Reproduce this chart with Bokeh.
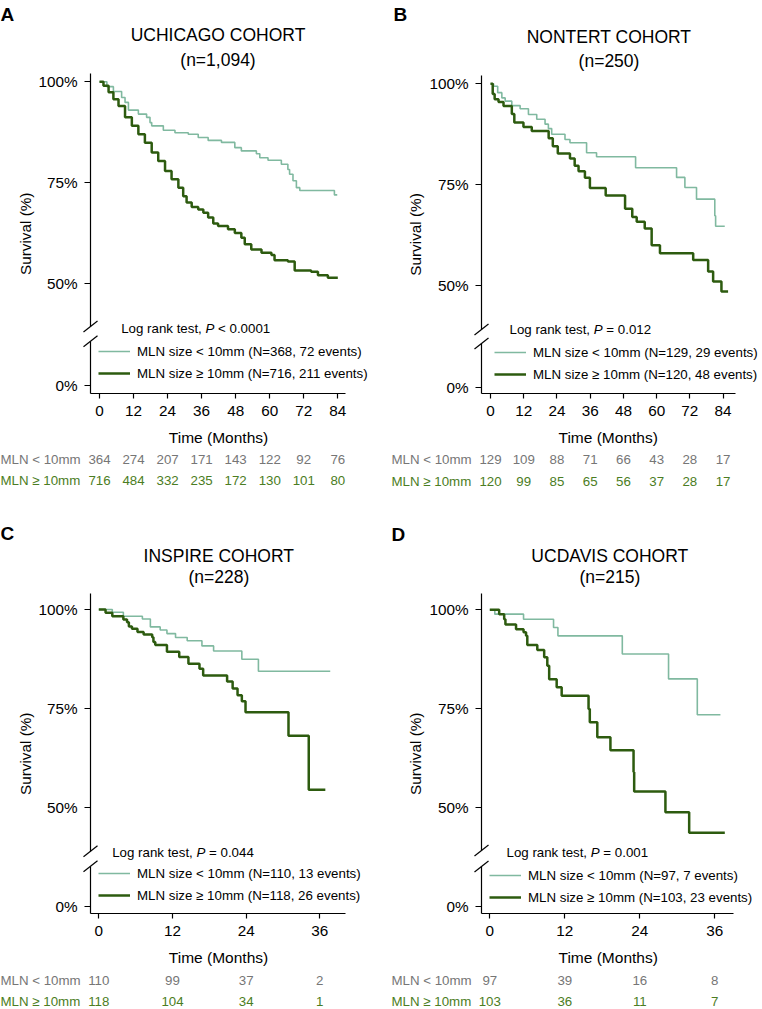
import math
from bokeh.plotting import figure
from bokeh.layouts import column, row
from bokeh.models import LinearAxis, FixedTicker, Legend, LegendItem, Range1d, PrintfTickFormatter
from bokeh.core.properties import value
from bokeh.embed import file_html
from bokeh.resources import INLINE

S = 1.0
FONT = "Liberation Sans"
LIGHT = "#80b9a0"
DARK = "#2d5b0f"
GREY = "#767676"
GREEN = "#4b7d23"

Y_TICKS = [50, 75, 100]

# ---------------- data ----------------
A_lo_t = [0, 2.6, 4.9, 7.8, 9.0, 10.2, 13.7, 16.6, 17.8, 18.4, 22.5, 26.6, 31.3, 34.8, 38.3, 43.0, 47.7, 50.0, 55.3, 56.5, 59.4, 64.1, 66.4, 67.0, 68.2, 69.4, 70.6, 82.8]
A_lo_s = [100, 98.8, 97.6, 96.1, 94.9, 93.0, 92.0, 91.2, 89.9, 89.1, 88.0, 87.4, 87.0, 86.2, 85.5, 85.0, 83.7, 82.9, 82.2, 81.2, 80.6, 79.6, 78.3, 77.1, 75.5, 73.8, 73.1, 72.0]
A_lo_end = 83.8
A_hi_t = [0, 1.4, 3.2, 4.9, 6.7, 9.0, 11.4, 13.7, 16.0, 18.4, 20.7, 23.1, 25.4, 27.8, 29.5, 30.7, 32.5, 34.8, 36.6, 38.3, 40.1, 41.8, 45.3, 47.7, 50.0, 51.2, 53.5, 57.1, 60.6, 61.7, 66.4, 68.8, 74.6, 77.0, 80.5]
A_hi_s = [100, 99.0, 97.4, 95.7, 94.0, 91.2, 89.1, 87.0, 84.9, 82.5, 80.4, 77.9, 75.9, 73.8, 71.7, 70.1, 69.0, 68.4, 67.6, 66.4, 64.9, 64.3, 63.5, 62.6, 61.4, 59.8, 58.5, 57.7, 57.1, 55.8, 55.5, 53.3, 53.0, 52.1, 51.5]
A_hi_end = 84.0

B_lo_t = [0, 1.1, 2.6, 4.1, 5.3, 7.7, 10.7, 13.7, 16.7, 19.7, 20.9, 22.1, 26.9, 28.7, 34.7, 38.3, 52.4, 67.2, 70.2, 74.4, 81.0, 81.3]
B_lo_s = [100, 99.4, 97.8, 96.5, 95.7, 94.6, 93.8, 92.4, 91.2, 90.0, 88.9, 87.5, 86.2, 85.4, 82.9, 81.9, 79.2, 76.8, 74.3, 71.4, 67.3, 64.7]
B_lo_end = 84.6
B_hi_t = [0, 0.8, 1.5, 2.9, 4.7, 7.7, 8.6, 11.9, 14.9, 21.0, 22.5, 24.3, 28.7, 30.4, 31.8, 34.1, 35.9, 41.6, 48.6, 51.2, 52.8, 55.7, 58.2, 61.2, 73.2, 78.6, 80.4, 83.4]
B_hi_s = [100, 97.5, 96.2, 95.5, 94.5, 92.5, 90.4, 89.3, 88.3, 86.5, 84.5, 82.7, 81.5, 79.7, 78.3, 76.7, 74.2, 72.3, 69.0, 67.0, 65.8, 64.1, 60.0, 58.0, 56.3, 53.5, 51.0, 48.5]
B_hi_end = 85.8

C_lo_t = [0, 2.2, 4.0, 7.1, 8.4, 10.0, 11.1, 12.5, 14.4, 16.8, 18.7, 23.3, 26.0]
C_lo_s = [100, 99.3, 98.3, 97.6, 95.6, 94.8, 93.9, 92.9, 92.1, 90.8, 89.5, 87.4, 84.4]
C_lo_end = 37.7
C_hi_t = [0, 1.1, 2.2, 4.0, 4.6, 4.9, 5.4, 6.3, 7.3, 8.7, 8.9, 9.2, 11.1, 13.1, 14.6, 16.4, 17.0, 20.9, 21.8, 22.6, 23.3, 23.9, 30.9, 34.2]
C_hi_s = [100, 99.2, 98.3, 97.5, 96.8, 95.7, 95.1, 94.3, 93.7, 93.0, 91.8, 91.0, 89.3, 88.0, 86.3, 85.0, 83.3, 81.8, 80.0, 78.3, 76.8, 74.0, 68.1, 54.4]
C_hi_end = 36.9

D_lo_t = [0, 0.8, 5.4, 10.2, 10.9, 21.2, 28.6, 33.2]
D_lo_s = [100, 98.9, 97.6, 95.5, 93.4, 88.8, 82.5, 73.4]
D_lo_end = 36.9
D_hi_t = [0, 1.5, 2.3, 2.5, 4.2, 5.4, 5.8, 6.0, 7.6, 8.7, 9.2, 9.5, 10.7, 11.5, 15.8, 16.0, 17.2, 19.3, 23.0, 23.1, 28.1, 31.9]
D_hi_s = [100, 98.9, 97.6, 96.3, 95.1, 94.3, 93.4, 91.1, 89.8, 88.0, 85.8, 82.4, 80.4, 78.2, 74.9, 71.5, 67.7, 64.4, 58.9, 54.0, 48.7, 43.5]
D_hi_end = 37.6

RISK_T_84 = [0, 12, 24, 36, 48, 60, 72, 84]
RISK_T_36 = [0, 12, 24, 36]
A_risk_lo = [364, 274, 207, 171, 143, 122, 92, 76]
A_risk_hi = [716, 484, 332, 235, 172, 130, 101, 80]
B_risk_lo = [129, 109, 88, 71, 66, 43, 28, 17]
B_risk_hi = [120, 99, 85, 65, 56, 37, 28, 17]
C_risk_lo = [110, 99, 37, 2]
C_risk_hi = [118, 104, 34, 1]
D_risk_lo = [97, 39, 16, 8]
D_risk_hi = [103, 36, 11, 7]

TITLES = ["UCHICAGO COHORT", "NONTERT COHORT", "INSPIRE COHORT", "UCDAVIS COHORT"]
NS = ["(n=1,094)", "(n=250)", "(n=228)", "(n=215)"]
LETTERS = ["A", "B", "C", "D"]
LEG_LO = ["MLN size < 10mm (N=368, 72 events)", "MLN size < 10mm (N=129, 29 events)",
          "MLN size < 10mm (N=110, 13 events)", "MLN size < 10mm (N=97, 7 events)"]
LEG_HI = ["MLN size \u2265 10mm (N=716, 211 events)", "MLN size \u2265 10mm (N=120, 48 events)",
          "MLN size \u2265 10mm (N=118, 26 events)", "MLN size \u2265 10mm (N=103, 23 events)"]
PVALS = ["< 0.0001", "= 0.012", "= 0.044", "= 0.001"]
ROW_LABELS = ["MLN < 10mm", "MLN \u2265 10mm"]

# ---------------- layout geometry (reference px, relative to panel) ----------------
GEO = [
    dict(w=390, h=500, x0=99.0, ppm=2.837, y50=283.3, ppp=4.04, t0=385.0, yax=90, ytop=73.3, xax=393.3, xr=345,
         bu=326.0, bl=340.7, let=(0, 14), tt=(217.5, 34.5, 59), sv=(24.5, 233.3), lr=(120.7, 327.5),
         leg=(98.3, 350.7, 372.7), xl=(218, 437.3), rl=0, rows=(459.3, 480.0), xtl=413.3),
    dict(w=372, h=500, x0=100.0, ppm=2.769, y50=285.0, ppp=4.034, t0=386.7, yax=91, ytop=75, xax=393.3, xr=345,
         bu=329.0, bl=343.0, let=(3, 14), tt=(218.5, 36, 60), sv=(25, 234), lr=(119, 329),
         leg=(104, 352.7, 374.0), xl=(217.7, 437), rl=1, rows=(459.3, 480.7), xtl=414),
    dict(w=390, h=508, x0=98.3, ppm=6.139, y50=306.7, ppp=3.954, t0=405.7, yax=90, ytop=93.3, xax=413.3, xr=345,
         bu=350.7, bl=365.7, let=(0, 32.5), tt=(218.3, 55, 76), sv=(24.5, 253.3), lr=(111.7, 351.7),
         leg=(98.3, 373.3, 395.0), xl=(218, 457.3), rl=0, rows=(480.0, 500.7), xtl=434),
    dict(w=372, h=508, x0=99.3, ppm=6.25, y50=306.7, ppp=3.948, t0=405.7, yax=91, ytop=93.3, xax=413.3, xr=342.7,
         bu=350.0, bl=366.0, let=(1, 33.5), tt=(219.3, 55, 76), sv=(25, 253.3), lr=(116, 351.7),
         leg=(99.3, 376.0, 397.3), xl=(217.7, 457.3), rl=1, rows=(480.0, 500.7), xtl=434),
]

AW = {' ': 278, ',': 278, '.': 278, '<': 584, '=': 584, 'L': 556, 'o': 556, 'g': 556, 'r': 333,
      'a': 556, 'n': 556, 'k': 500, 't': 278, 'e': 556, 's': 500, 'P': 667}


def tw(s, size):
    return sum(AW.get(c, 556) for c in s) / 1000.0 * size


def fs(px):
    return f"{px * S:.2f}px"


def style_axis(ax, standoff, tick_out):
    ax.axis_line_color = "black"
    ax.axis_line_width = 1.2
    ax.major_tick_line_color = "black"
    ax.major_tick_line_width = 1.2
    ax.major_tick_in = 0
    ax.major_tick_out = tick_out
    ax.minor_tick_line_color = None
    ax.major_label_text_font = FONT
    ax.major_label_text_font_size = fs(15.3)
    ax.major_label_text_color = "black"
    ax.major_label_standoff = standoff


def make_panel(i, lo_t, lo_s, lo_end, hi_t, hi_s, hi_end, risk_t, risk_lo, risk_hi):
    g = GEO[i]
    W = round(g["w"] * S)
    H = round(g["h"] * S)
    wr, hr = W / S, H / S
    X = lambda px: (px - g["x0"]) / g["ppm"]
    Y = lambda py: 50 + (g["y50"] - py) / g["ppp"]
    p = figure(width=W, height=H, x_range=Range1d(X(0), X(wr)), y_range=Range1d(Y(hr), Y(0)),
               output_backend="svg", toolbar_location=None, title=None,
               min_border_left=0, min_border_right=0, min_border_top=0, min_border_bottom=0)
    p.outline_line_color = None
    p.grid.visible = False
    p.background_fill_color = "white"
    p.border_fill_color = "white"

    t0 = Y(g["t0"])
    p.extra_y_ranges = {"lower": Range1d(Y(hr) - t0, Y(0) - t0)}

    # curves
    r_lo = p.step(lo_t + [lo_end], lo_s + [lo_s[-1]], mode="after", line_color=LIGHT, line_width=1.6)
    r_hi = p.step(hi_t + [hi_end], hi_s + [hi_s[-1]], mode="after", line_color=DARK, line_width=2.5)

    # x axis
    xa = p.xaxis[0]
    xa.fixed_location = Y(g["xax"])
    xa.bounds = (X(g["yax"]), X(g["xr"]))
    xa.ticker = FixedTicker(ticks=risk_t)
    style_axis(xa, round((g["xtl"] - g["xax"] - 5 - 0.55 * 15.3) * S), 5)

    # upper y axis
    ya = p.yaxis[0]
    ya.fixed_location = X(g["yax"])
    ya.bounds = (Y(g["bu"]), Y(g["ytop"]))
    ya.ticker = FixedTicker(ticks=Y_TICKS)
    ya.formatter = PrintfTickFormatter(format="%d%%")
    style_axis(ya, 7, 6)

    # lower y axis (below the break)
    yb = LinearAxis(y_range_name="lower", fixed_location=X(g["yax"]),
                    bounds=(Y(g["xax"]) - t0, Y(g["bl"]) - t0),
                    ticker=FixedTicker(ticks=[0]), formatter=PrintfTickFormatter(format="%d%%"))
    style_axis(yb, 7, 6)
    p.add_layout(yb, "left")

    # break marks
    bx0, bx1 = X(g["yax"] - 7), X(g["yax"] + 7)
    p.segment(x0=[bx0, bx0], y0=[Y(g["bu"] + 5.5), Y(g["bl"] + 5.5)],
              x1=[bx1, bx1], y1=[Y(g["bu"] - 5.5), Y(g["bl"] - 5.5)],
              line_color="black", line_width=1.2)

    def txt(xs, ys, texts, size, color="black", align="left", style="normal", angle=0.0):
        p.text(x=xs, y=ys, text=texts, text_font=value(FONT), text_font_size=fs(size),
               text_color=color, text_align=align, text_baseline="middle",
               text_font_style=style, angle=angle)

    # panel letter and titles
    txt([X(g["let"][0])], [Y(g["let"][1])], [LETTERS[i]], 19, style="bold")
    txt([X(g["tt"][0])], [Y(g["tt"][1])], [TITLES[i]], 17.5, align="center")
    txt([X(g["tt"][0])], [Y(g["tt"][2])], [NS[i]], 17.5, align="center")

    # axis titles
    txt([X(g["sv"][0])], [Y(g["sv"][1])], ["Survival (%)"], 15.3, align="center", angle=math.pi / 2)
    txt([X(g["xl"][0])], [Y(g["xl"][1])], ["Time (Months)"], 15.5, align="center")

    # log rank
    f = 13.3
    lx, ly = g["lr"]
    a = "Log rank test, "
    txt([X(lx)], [Y(ly)], [a.strip()], f)
    txt([X(lx + tw(a, f))], [Y(ly)], ["P"], f, style="italic")
    txt([X(lx + tw(a, f) + tw("P ", f))], [Y(ly)], [PVALS[i]], f)

    # legend
    lgx, lgy1, lgy2 = g["leg"]
    leg = Legend(items=[LegendItem(label=LEG_LO[i], renderers=[r_lo]),
                        LegendItem(label=LEG_HI[i], renderers=[r_hi])],
                 location=(round(lgx * S), round(H - lgy2 * S - 11)),
                 glyph_width=32, glyph_height=22, label_height=22, spacing=0, padding=0, margin=0,
                 label_standoff=7, label_text_font=FONT, label_text_font_size=fs(13.3),
                 label_text_color="black", background_fill_alpha=0, border_line_color=None)
    p.add_layout(leg)

    # number at risk
    r1, r2 = g["rows"]
    txt([X(g["rl"])], [Y(r1)], [ROW_LABELS[0]], 13.3, color=GREY)
    txt([X(g["rl"])], [Y(r2)], [ROW_LABELS[1]], 13.3, color=GREEN)
    txt(risk_t, [Y(r1)] * len(risk_t), [str(v) for v in risk_lo], 13.3, color=GREY, align="center")
    txt(risk_t, [Y(r2)] * len(risk_t), [str(v) for v in risk_hi], 13.3, color=GREEN, align="center")
    return p


pA = make_panel(0, A_lo_t, A_lo_s, A_lo_end, A_hi_t, A_hi_s, A_hi_end, RISK_T_84, A_risk_lo, A_risk_hi)
pB = make_panel(1, B_lo_t, B_lo_s, B_lo_end, B_hi_t, B_hi_s, B_hi_end, RISK_T_84, B_risk_lo, B_risk_hi)
pC = make_panel(2, C_lo_t, C_lo_s, C_lo_end, C_hi_t, C_hi_s, C_hi_end, RISK_T_36, C_risk_lo, C_risk_hi)
pD = make_panel(3, D_lo_t, D_lo_s, D_lo_end, D_hi_t, D_hi_s, D_hi_end, RISK_T_36, D_risk_lo, D_risk_hi)

layout = column(row(pA, pB), row(pC, pD))
open("out.html", "w").write(file_html(layout, INLINE))
